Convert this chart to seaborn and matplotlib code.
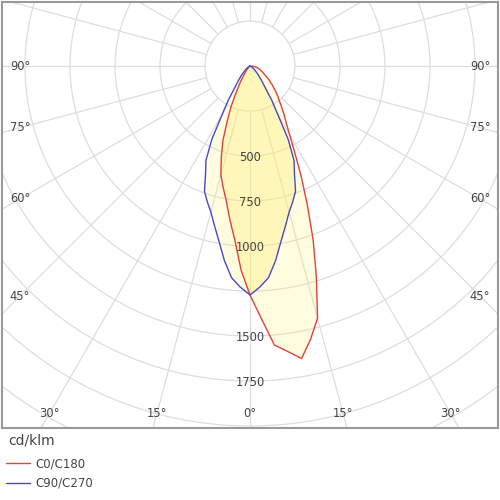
import numpy as np
import pandas as pd
import matplotlib
matplotlib.use('Agg')
import matplotlib.pyplot as plt
from matplotlib.lines import Line2D
import seaborn as sns

# Curva fotométrica (cd/klm) - ângulos gama a partir do nadir
angulos = [0, 2.5, 5, 7.5, 10, 12.5, 15, 17.5, 20, 22.5, 25, 27.5, 30, 32.5,
           35, 37.5, 40, 42.5, 45, 50, 55, 60, 65, 70, 75, 80, 85, 90]

# C0 (lado direito da curva vermelha)
c0 = [1272, 1400, 1556, 1599, 1650, 1555, 1450, 1226, 1025, 830, 670, 535, 440, 375,
      330, 290, 255, 230, 205, 160, 125, 93, 75, 60, 47, 35, 22, 10]
# C180 (lado esquerdo da curva vermelha)
c180 = [1272, 1135, 970, 860, 760, 690, 625, 530, 440, 330, 250, 170, 120, 85,
        58, 40, 28, 20, 15, 8, 4, 2, 0, 0, 0, 0, 0, 0]
# C90/C270 (simétrica, curva azul)
c90 = [1272, 1230, 1180, 1090, 990, 910, 840, 790, 740, 645, 580, 460, 305, 225,
       150, 115, 90, 72, 55, 35, 22, 14, 8, 5, 3, 1, 0, 0]

aneis = [250, 500, 750, 1000, 1250, 1500, 1750, 2000, 2250, 2500, 2750, 3000]
rotulos_aneis = [500, 750, 1000, 1500, 1750]
raios_grade = list(range(0, 360, 15))
rotulos_lado = [90, 75, 60, 45]
rotulos_baixo = [-30, -15, 0, 15, 30]

cor_c0 = '#e0413c'
cor_c90 = '#4a48cc'
cor_grade = '#dddddd'
cor_texto = '#444444'
cor_preench = '#fff064'

sns.set_theme(style='white')
plt.rcParams['font.family'] = ['DejaVu Sans']


def contorno(lado_esq, lado_dir):
    a = np.radians(angulos)
    esq = np.array(lado_esq, dtype=float)
    dir_ = np.array(lado_dir, dtype=float)
    x = np.concatenate([(-esq * np.sin(a))[::-1], dir_ * np.sin(a)])
    y = np.concatenate([(-esq * np.cos(a))[::-1], -dir_ * np.cos(a)])
    return pd.DataFrame({'x': x, 'y': y})


fig = plt.figure(figsize=(5, 5), dpi=100)
ax = fig.add_axes([0.004, 0.144, 0.992, 0.852])
ax.set_xlim(-1378, 1378)
ax.set_ylim(-2011, 356)

# grade polar
for r in aneis:
    ax.add_patch(plt.Circle((0, 0), r, fill=False, ec=cor_grade, lw=0.9, zorder=1))
for g in raios_grade:
    t = np.radians(g)
    ax.plot([250 * np.sin(t), 4000 * np.sin(t)], [-250 * np.cos(t), -4000 * np.cos(t)],
            color=cor_grade, lw=0.9, zorder=1)

# curvas
curva_vermelha = contorno(c180, c0)
curva_azul = contorno(c90, c90)
ax.fill(curva_vermelha['x'], curva_vermelha['y'], color=cor_preench, alpha=0.2, lw=0, zorder=2)
area_azul = ax.fill(curva_azul['x'], curva_azul['y'], color=cor_preench, alpha=0.2, lw=0, zorder=2)[0]
# intersecção um pouco mais forte
inter = ax.fill(curva_vermelha['x'], curva_vermelha['y'], color=cor_preench, alpha=0.12, lw=0, zorder=2)[0]
inter.set_clip_path(area_azul)
sns.lineplot(data=curva_vermelha, x='x', y='y', sort=False, estimator=None,
             color=cor_c0, lw=1, ax=ax, zorder=3)
sns.lineplot(data=curva_azul, x='x', y='y', sort=False, estimator=None,
             color=cor_c90, lw=1, ax=ax, zorder=3)

# rótulos
for v in rotulos_aneis:
    ax.text(0, -v - 10, str(v), ha='center', va='center', fontsize=8.3, color=cor_texto, zorder=4)
for g in rotulos_lado:
    t = np.radians(g)
    y = -1278 * np.cos(t) / np.sin(t)
    ax.text(-1278, y, f'{g}°', ha='center', va='center', fontsize=8.3, color=cor_texto)
    ax.text(1278, y, f'{g}°', ha='center', va='center', fontsize=8.3, color=cor_texto)
for g in rotulos_baixo:
    ax.text(1928 * np.tan(np.radians(g)), -1928, f'{abs(g)}°', ha='center', va='center',
            fontsize=8.3, color=cor_texto)

ax.set_xlabel('')
ax.set_ylabel('')
ax.set_xticks([])
ax.set_yticks([])
for s in ax.spines.values():
    s.set_color('#999999')
    s.set_linewidth(1.5)

fig.text(0.016, 1 - 440 / 500, 'cd/klm', ha='left', va='center', fontsize=10, color=cor_texto)
alcas = [Line2D([], [], color=cor_c0, lw=1), Line2D([], [], color=cor_c90, lw=1)]
fig.legend(alcas, ['C0/C180', 'C90/C270'], loc='upper left',
           bbox_to_anchor=(-0.004, 1 - 449 / 500), frameon=False, fontsize=8.5,
           handlelength=2.0, handletextpad=0.5, labelspacing=0.55, borderpad=0.2,
           labelcolor=cor_texto)

fig.savefig('out.png', dpi=100)
